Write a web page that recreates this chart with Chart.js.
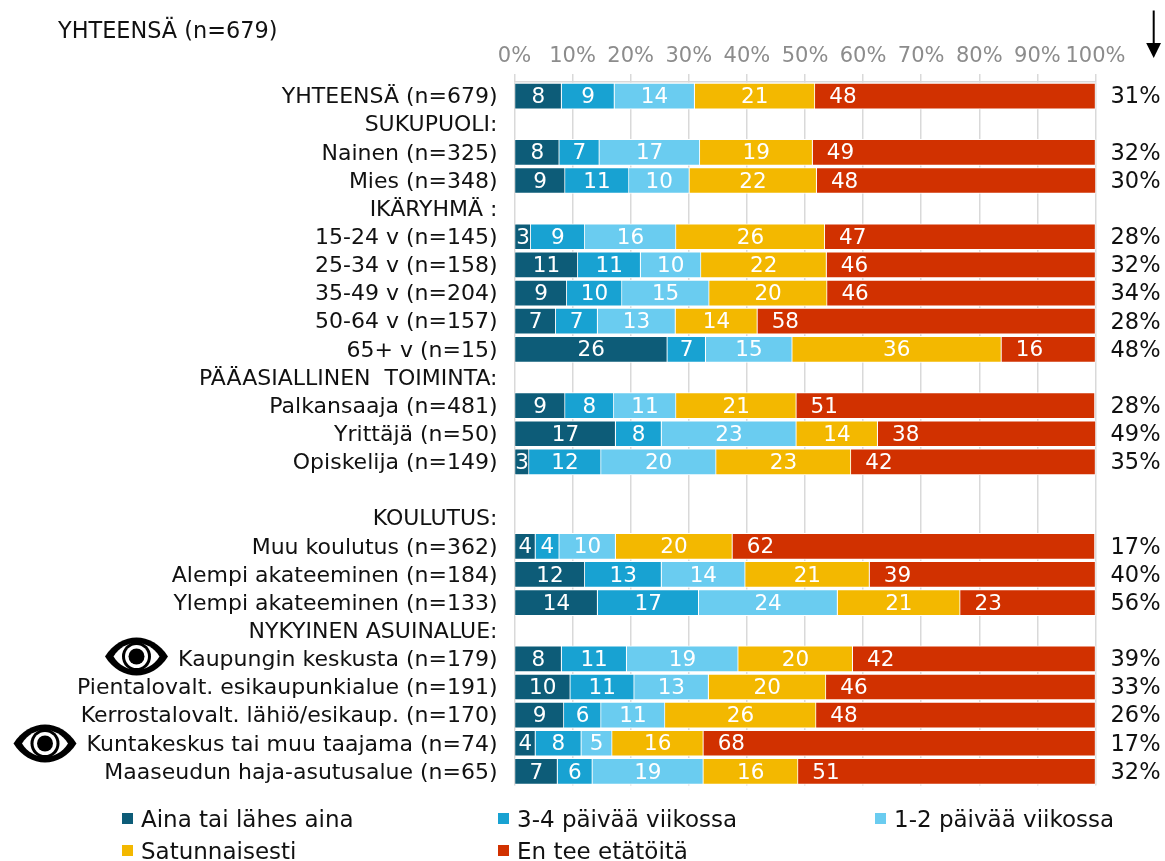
<!DOCTYPE html>
<html><head><meta charset="utf-8">
<style>html,body{margin:0;padding:0;background:#fff}canvas{display:block}</style>
<script src="https://cdn.jsdelivr.net/npm/chart.js@4"></script>
</head><body><canvas id="c" width="1165" height="861"></canvas>
<script>
const FONT = '"DejaVu Sans"';
const categories = ["YHTEENSÄ (n=679)","SUKUPUOLI:","Nainen (n=325)","Mies (n=348)","IKÄRYHMÄ :","15-24 v (n=145)","25-34 v (n=158)","35-49 v (n=204)","50-64 v (n=157)","65+ v (n=15)","PÄÄASIALLINEN  TOIMINTA:","Palkansaaja (n=481)","Yrittäjä (n=50)","Opiskelija (n=149)","","KOULUTUS:","Muu koulutus (n=362)","Alempi akateeminen (n=184)","Ylempi akateeminen (n=133)","NYKYINEN ASUINALUE:","Kaupungin keskusta (n=179)","Pientalovalt. esikaupunkialue (n=191)","Kerrostalovalt. lähiö/esikaup. (n=170)","Kuntakeskus tai muu taajama (n=74)","Maaseudun haja-asutusalue (n=65)"];
const aina   = [8.1,null,7.7,8.7,null,2.8,10.9,9.0,7.1,26.3,null,8.7,17.4,2.5,null,null,3.6,12.1,14.3,null,8.1,9.6,8.5,3.6,7.4];
const p34    = [9.1,null,6.9,11.0,null,9.3,10.8,9.5,7.2,6.6,null,8.4,7.9,12.4,null,null,4.1,13.2,17.4,null,11.2,11.0,6.4,7.9,6.0];
const p12    = [13.8,null,17.3,10.4,null,15.7,10.4,15.0,13.4,14.9,null,10.7,23.2,19.8,null,null,9.7,14.4,23.9,null,19.2,12.8,11.0,5.3,19.1];
const satun  = [20.7,null,19.4,21.9,null,25.6,21.6,20.3,14.1,36.0,null,20.7,14.0,23.2,null,null,20.1,21.4,21.1,null,19.7,20.2,26.0,15.7,16.3];
const enTee  = [48.3,null,48.7,48.1,null,46.6,46.3,46.2,58.2,16.2,null,51.4,37.6,42.1,null,null,62.4,38.9,23.3,null,41.8,46.4,48.1,67.5,51.2];
const totals = ["31%","","32%","30%","","28%","32%","34%","28%","48%","","28%","49%","35%","","","17%","40%","56%","","39%","33%","26%","17%","32%"];
const seriesNames = ["Aina tai lähes aina","3-4 päivää viikossa","1-2 päivää viikossa","Satunnaisesti","En tee etätöitä"];
const seriesValues = [aina,p34,p12,satun,enTee];
const seriesColors = ["#0D5C78","#18A2D2","#6ACCF0","#F3B800","#D13100"];
const headerLabel = "YHTEENSÄ (n=679)";
const eyeMarks = [[136.5,656.5],[45,743.5]];

function eye(ctx,cx,cy){
  const almond=(w,h)=>{ctx.beginPath();ctx.moveTo(cx-w,cy);ctx.bezierCurveTo(cx-w*0.5,cy-h*1.33,cx+w*0.5,cy-h*1.33,cx+w,cy);ctx.bezierCurveTo(cx+w*0.5,cy+h*1.33,cx-w*0.5,cy+h*1.33,cx-w,cy);ctx.closePath();ctx.fill();};
  const disc=r=>{ctx.beginPath();ctx.arc(cx,cy,r,0,Math.PI*2);ctx.fill();};
  ctx.fillStyle="#000";almond(31.5,19);
  ctx.fillStyle="#fff";almond(23,13.5);
  ctx.fillStyle="#000";disc(14.5);
  ctx.fillStyle="#fff";disc(11.5);
  ctx.fillStyle="#000";disc(8);
}
let labelsNudged=false;
const extras = {
  id:"extras",
  beforeDraw(chart){
    if(labelsNudged)return;
    labelsNudged=true;
    ["y","y2"].forEach(id=>{
      chart.scales[id].getLabelItems().forEach(it=>{it.options.translation[1]+=1.5;});
    });
  },
  afterDatasetsDraw(chart){
    const ctx=chart.ctx;
    ctx.save();
    ctx.textBaseline="middle";
    ctx.font="21.5px "+FONT;
    ctx.fillStyle="#fff";
    chart.data.datasets.forEach((ds,di)=>{
      const meta=chart.getDatasetMeta(di);
      meta.data.forEach((bar,i)=>{
        const v=ds.data[i];
        if(v==null)return;
        const last=di===chart.data.datasets.length-1;
        ctx.textAlign="center";
        const x= last ? bar.base+28 : (bar.base+bar.x)/2;
        ctx.fillText(String(Math.round(v)),x,bar.y+1.5);
      });
    });
    ctx.restore();
  },
  afterDraw(chart){
    const ctx=chart.ctx;
    ctx.save();
    ctx.textBaseline="middle";ctx.textAlign="left";
    ctx.font="22.4px "+FONT;ctx.fillStyle="#111";
    ctx.fillText(headerLabel,58,32);
    // legend
    const cols=[122,498,875];
    const rows=[819,851];
    ctx.font="23px "+FONT;
    chart.data.datasets.forEach((ds,i)=>{
      const x=cols[i%3], y=rows[Math.floor(i/3)];
      ctx.fillStyle=ds.backgroundColor;
      ctx.fillRect(x,y-6,11,11);
      ctx.fillStyle="#111";
      ctx.fillText(ds.label,x+19,y+2);
    });
    // arrow
    ctx.strokeStyle="#000";ctx.lineWidth=2;
    ctx.beginPath();ctx.moveTo(1153.7,10.5);ctx.lineTo(1153.7,46);ctx.stroke();
    ctx.fillStyle="#000";
    ctx.beginPath();ctx.moveTo(1146.2,43);ctx.lineTo(1161,43);ctx.lineTo(1153.7,58);ctx.closePath();ctx.fill();
    eyeMarks.forEach(m=>eye(ctx,m[0],m[1]));
    ctx.restore();
  }
};
new Chart(document.getElementById("c"),{
  type:"bar",
  plugins:[extras],
  data:{
    labels:categories,
    datasets:seriesNames.map((n,i)=>({label:n,data:seriesValues[i],backgroundColor:seriesColors[i],borderColor:"#fff",borderWidth:1,barThickness:26,yAxisID:"y",xAxisID:"x"}))
  },
  options:{
    indexAxis:"y",responsive:false,animation:false,
    layout:{padding:{left:0,right:0,top:0,bottom:75.5}},
    plugins:{legend:{display:false},tooltip:{enabled:false},title:{display:false}},
    scales:{
      x:{position:"top",stacked:true,min:0,max:100,
        afterFit(s){s.height=82;},
        grid:{color:"#d9d9d9",lineWidth:1.5,tickLength:8,tickColor:"#d9d9d9"},
        border:{color:"#d9d9d9",width:1.5},
        ticks:{stepSize:10,autoSkip:false,maxRotation:0,padding:5,color:"#8c8c8c",font:{family:FONT,size:21},callback:v=>v+"%"}
      },
      y:{position:"left",stacked:true,
        afterFit(s){s.width=514.5;},
        grid:{display:false,drawTicks:false},border:{display:false},
        ticks:{autoSkip:false,padding:17,color:"#111",font:{family:FONT,size:22}}
      },
      y2:{type:"category",position:"right",offset:true,labels:totals,
        afterFit(s){s.width=69.5;},
        grid:{display:false,drawTicks:false},border:{display:false},
        ticks:{autoSkip:false,padding:15,color:"#111",font:{family:FONT,size:22.5}}
      }
    }
  }
});
</script></body></html>
